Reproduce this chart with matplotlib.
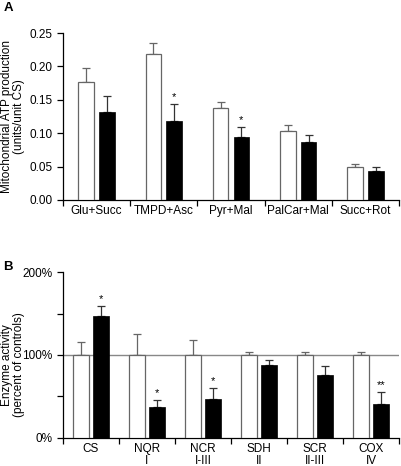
import matplotlib
matplotlib.use("Agg")
import matplotlib.pyplot as plt
import numpy as np

plt.rcParams["font.family"] = ["Liberation Sans", "DejaVu Sans"]

# ─── Panel A: mitochondrial ATP production ───────────────────────────────────
a_groups = ["Glu+Succ", "TMPD+Asc", "Pyr+Mal", "PalCar+Mal", "Succ+Rot"]
a_ctrl = [0.176, 0.218, 0.137, 0.103, 0.049]
a_ctrl_err = [0.021, 0.017, 0.010, 0.009, 0.005]
a_pat = [0.131, 0.118, 0.094, 0.087, 0.044]
a_pat_err = [0.024, 0.025, 0.015, 0.010, 0.005]
a_stars = ["", "*", "*", "", ""]

# ─── Panel B: enzyme activity, percent of controls ───────────────────────────
b_groups = ["CS", "NQR\nI", "NCR\nI-III", "SDH\nII", "SCR\nII-III", "COX\nIV"]
b_ctrl = [100, 100, 100, 100, 100, 100]
b_ctrl_err = [15, 25, 18, 3, 4, 4]
b_pat = [147, 37, 47, 88, 76, 41]
b_pat_err = [12, 8, 13, 6, 10, 14]
b_stars = ["*", "*", "*", "", "", "**"]

GREY = "#666666"
FS = 8.5

fig = plt.figure(figsize=(4.01, 4.66), dpi=100)
axA = fig.add_axes([0.157, 0.571, 0.838, 0.358])
axB = fig.add_axes([0.157, 0.061, 0.838, 0.355])


def draw_panel(ax, groups, ctrl, ctrl_err, pat, pat_err, stars, off, width, star_gap):
    x = np.arange(len(groups))
    ax.bar(x - off, ctrl, width, color="white", edgecolor=GREY, linewidth=0.9, zorder=3)
    ax.errorbar(x - off, ctrl, yerr=[np.zeros(len(x)), ctrl_err], fmt="none",
                ecolor=GREY, elinewidth=0.9, capsize=2.6, capthick=0.9, zorder=2)
    ax.bar(x + off, pat, width, color="black", edgecolor="black", linewidth=0.5, zorder=3)
    ax.errorbar(x + off, pat, yerr=[np.zeros(len(x)), pat_err], fmt="none",
                ecolor="#333333", elinewidth=0.9, capsize=2.6, capthick=0.9, zorder=2)
    for xi, p, e, s in zip(x, pat, pat_err, stars):
        if s:
            ax.annotate(s, (xi + off, p + e), xytext=(0, star_gap), textcoords="offset points",
                        ha="center", va="bottom", fontsize=8)
    ax.set_xlim(-0.5, len(groups) - 0.5)
    ax.set_xticks(x)
    ax.set_xticklabels(groups, fontsize=FS, linespacing=0.95)
    ax.set_xticks(np.arange(len(groups) + 1) - 0.5, minor=True)
    ax.tick_params(axis="x", which="major", length=0, pad=4)
    ax.tick_params(axis="x", which="minor", length=4, width=0.9, direction="out")
    ax.tick_params(axis="y", which="both", length=4, width=0.9, labelsize=FS)
    for side in ["top", "right"]:
        ax.spines[side].set_visible(False)
    for side in ["left", "bottom"]:
        ax.spines[side].set_linewidth(0.9)


draw_panel(axA, a_groups, a_ctrl, a_ctrl_err, a_pat, a_pat_err, a_stars, 0.155, 0.233, 1.5)
axA.set_ylim(0, 0.25)
axA.set_yticks([0, 0.05, 0.10, 0.15, 0.20, 0.25])
axA.set_yticklabels(["0.00", "0.05", "0.10", "0.15", "0.20", "0.25"])
axA.set_ylabel("Mitochondrial ATP production\n(units/unit CS)", fontsize=FS,
               linespacing=1.0)
axA.yaxis.set_label_coords(-0.112, 0.5)

draw_panel(axB, b_groups, b_ctrl, b_ctrl_err, b_pat, b_pat_err, b_stars, 0.18, 0.28, 1.5)
axB.axhline(100, color="#888888", linewidth=1.0, zorder=1)
axB.set_ylim(0, 200)
axB.set_yticks([0, 100, 200])
axB.set_yticklabels(["0%", "100%", "200%"])
axB.set_yticks([50, 150], minor=True)
axB.set_ylabel("Enzyme activity\n(percent of controls)", fontsize=FS, linespacing=1.0)
axB.yaxis.set_label_coords(-0.112, 0.44)

fig.text(0.008, 0.996, "A", fontsize=9.5, fontweight="bold", va="top", ha="left")
fig.text(0.008, 0.440, "B", fontsize=9.5, fontweight="bold", va="top", ha="left")

fig.savefig("out.png", dpi=100)
